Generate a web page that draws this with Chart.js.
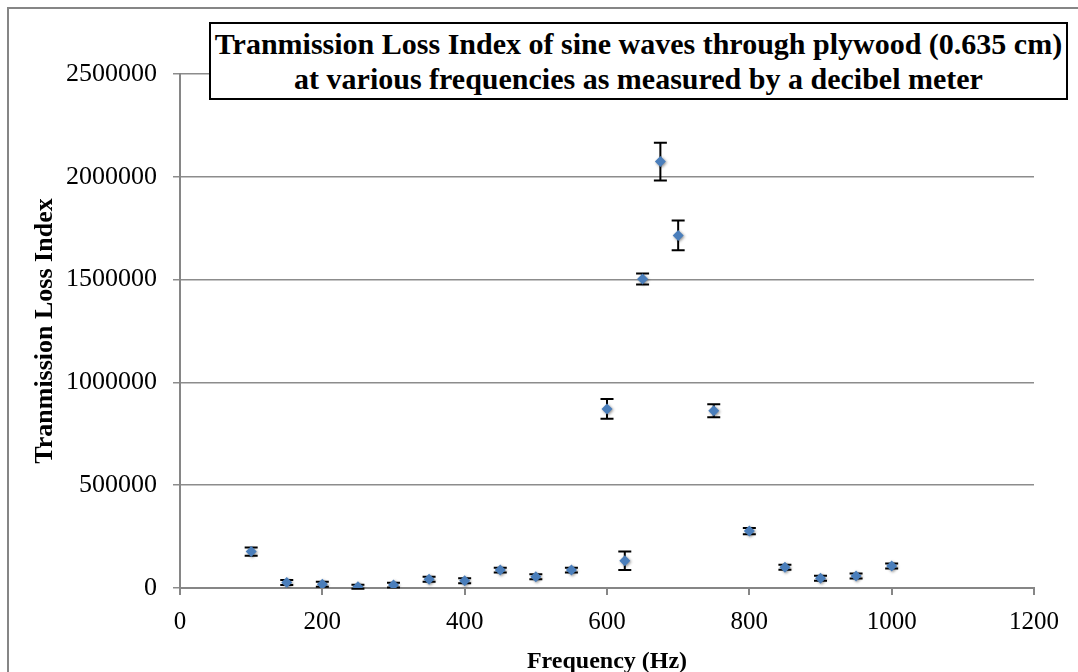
<!DOCTYPE html>
<html>
<head>
<meta charset="utf-8">
<script src="https://cdn.jsdelivr.net/npm/chart.js@4.4.1/dist/chart.umd.min.js"></script>
<style>
  html, body { margin: 0; padding: 0; background: #fff; overflow: hidden; }
  #wrap { position: relative; width: 1078px; height: 672px; }
  #frame { position: absolute; left: 7px; top: 7px; width: 1100px; height: 700px; border: 2px solid #868686; box-sizing: border-box; }
  #c { position: absolute; left: 0; top: 0; }
  #title { position: absolute; left: 209px; top: 22px; width: 859px; height: 78px; box-sizing: border-box;
    border: 2px solid #000; background: #fff; font-family: "Liberation Serif", "Times New Roman", serif;
    font-weight: bold; font-size: 30px; line-height: 35px; text-align: center; padding-top: 2px; color: #000; white-space: nowrap; }
</style>
</head>
<body>
<div id="wrap">
  <div id="frame"></div>
  <canvas id="c" width="1078" height="672"></canvas>
  <div id="title">Tranmission Loss Index of sine waves through plywood (0.635 cm)<br>at various frequencies as measured by a decibel meter</div>
</div>
<script>
const frequencies = [100, 150, 200, 250, 300, 350, 400, 450, 500, 550, 600, 625, 650, 675, 700, 750, 800, 850, 900, 950, 1000];
const lossIndex = [177000, 27000, 18000, 6000, 14000, 43000, 35000, 87000, 55000, 87000, 871000, 133000, 1503000, 2074000, 1715000, 862000, 277000, 101000, 47000, 58000, 107000];
const errors = [20000, 12000, 12000, 10000, 12000, 12000, 12000, 12000, 12000, 12000, 48000, 45000, 27000, 92000, 72000, 32000, 15000, 12000, 12000, 12000, 12000];
const xTitle = "Frequency (Hz)";
const yTitle = "Tranmission Loss Index";

const points = frequencies.map((f, i) => ({ x: f, y: lossIndex[i] }));

const errorBars = {
  id: 'errorBars',
  beforeDatasetsDraw(chart) {
    const ctx = chart.ctx;
    const xs = chart.scales.x, ys = chart.scales.y;
    ctx.save();
    ctx.strokeStyle = '#000';
    ctx.lineWidth = 2;
    frequencies.forEach((f, i) => {
      const px = xs.getPixelForValue(f);
      const top = ys.getPixelForValue(lossIndex[i] + errors[i]);
      const bot = ys.getPixelForValue(lossIndex[i] - errors[i]);
      ctx.beginPath();
      ctx.moveTo(px, top); ctx.lineTo(px, bot);
      ctx.moveTo(px - 6.5, top); ctx.lineTo(px + 6.5, top);
      ctx.moveTo(px - 6.5, bot); ctx.lineTo(px + 6.5, bot);
      ctx.stroke();
    });
    ctx.restore();
  },
  beforeDatasetDraw(chart) {
    const ctx = chart.ctx;
    ctx.save();
    ctx.shadowColor = 'rgba(0,0,0,0.45)';
    ctx.shadowBlur = 3;
    ctx.shadowOffsetX = 1;
    ctx.shadowOffsetY = 1;
  },
  afterDatasetDraw(chart) {
    chart.ctx.restore();
  }
};

new Chart(document.getElementById('c'), {
  type: 'scatter',
  data: {
    datasets: [{
      data: points,
      pointStyle: 'rectRot',
      pointRadius: 5.5,
      pointHoverRadius: 5.5,
      backgroundColor: '#4a7ebb',
      borderColor: '#4a7ebb',
      borderWidth: 0
    }]
  },
  options: {
    responsive: false,
    animation: false,
    layout: { padding: { left: 20, right: 44, top: 74, bottom: -4 } },
    plugins: { legend: { display: false }, tooltip: { enabled: false } },
    scales: {
      x: {
        type: 'linear', min: 0, max: 1200,
        afterFit(s) { s.height = 88; },
        ticks: { stepSize: 200, color: '#000', padding: 12, callback: v => String(v), font: { family: 'Liberation Serif', size: 25 } },
        grid: { drawOnChartArea: false, drawTicks: true, tickLength: 7, color: '#868686', lineWidth: 2 },
        border: { color: '#868686', width: 2 },
        title: { display: true, text: xTitle, color: '#000', padding: { top: 0, bottom: 0 }, font: { family: 'Liberation Serif', size: 24, weight: 'bold' } }
      },
      y: {
        min: 0, max: 2500000,
        afterFit(s) { s.width = 160; },
        ticks: { stepSize: 500000, color: '#000', padding: 16, callback: v => String(v), font: { family: 'Liberation Serif', size: 26 } },
        grid: { color: '#8c8c8c', lineWidth: 1.5, tickLength: 7 },
        border: { color: '#868686', width: 2 },
        title: { display: true, text: yTitle, color: '#000', padding: { top: 10, bottom: 0 }, font: { family: 'Liberation Serif', size: 26, weight: 'bold' } }
      }
    }
  },
  plugins: [errorBars]
});
</script>
</body>
</html>
